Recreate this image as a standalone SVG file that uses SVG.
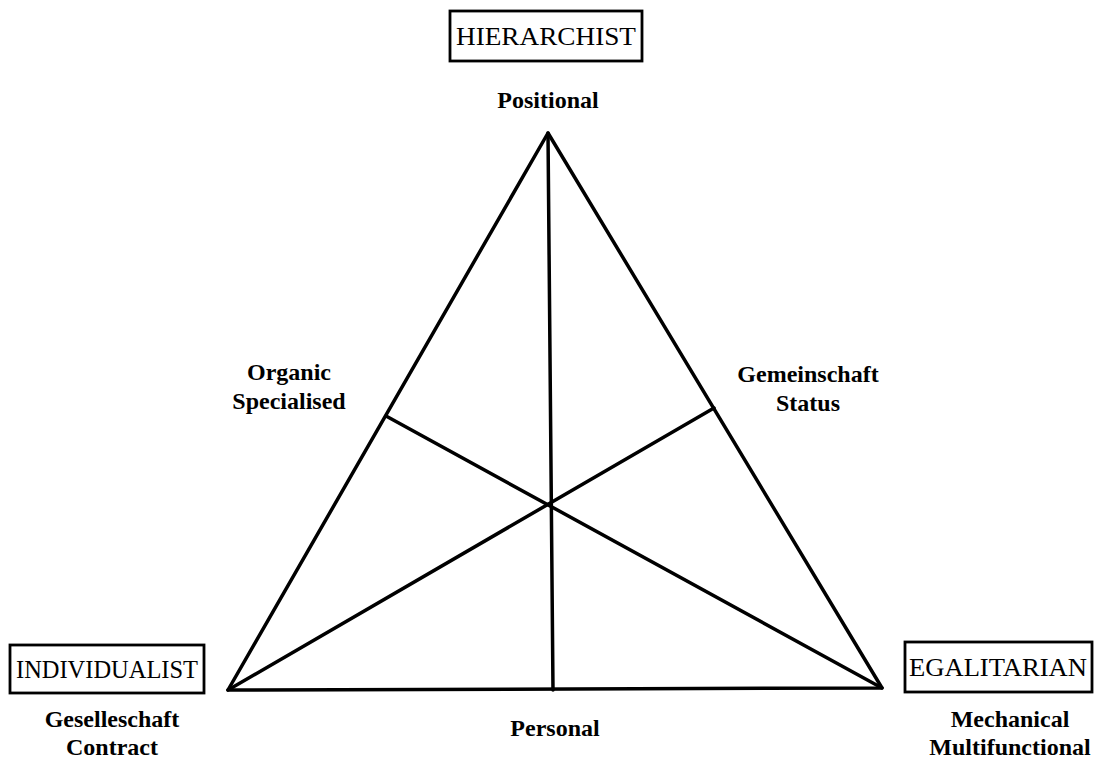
<svg xmlns="http://www.w3.org/2000/svg" width="1094" height="760" viewBox="0 0 1094 760">
<style>
.ln{stroke:#000;stroke-width:3.5;fill:none;stroke-linecap:round;stroke-linejoin:round}
.bx{stroke:#000;stroke-width:2.8;fill:#fff}
.cap{font-family:"Liberation Serif","Times New Roman",serif;font-size:25px;fill:#000;text-anchor:middle}
.lb{font-family:"Liberation Serif","Times New Roman",serif;font-size:24px;font-weight:bold;fill:#000;text-anchor:middle}
</style>
<rect width="1094" height="760" fill="#fff"/>
<g id="connectors">
<polygon class="ln" points="548,133 228,690 882,688"/>
<line class="ln" x1="548" y1="133" x2="553" y2="690"/>
<line class="ln" x1="228" y1="690" x2="714" y2="408"/>
<line class="ln" x1="882" y1="688" x2="386" y2="416"/>
</g>
<g id="hierarchist">
<rect class="bx" x="450" y="11" width="192" height="50"/>
<text class="cap" x="546" y="45" textLength="180" lengthAdjust="spacingAndGlyphs">HIERARCHIST</text>
<text class="lb" x="548" y="108">Positional</text>
</g>
<g id="individualist">
<rect class="bx" x="10" y="645" width="194" height="48"/>
<text class="cap" x="107" y="678" textLength="182" lengthAdjust="spacingAndGlyphs">INDIVIDUALIST</text>
<text class="lb" x="112" y="727">Geselleschaft</text>
<text class="lb" x="112" y="755">Contract</text>
</g>
<g id="egalitarian">
<rect class="bx" x="905" y="642" width="187" height="50"/>
<text class="cap" x="998" y="676" textLength="178" lengthAdjust="spacingAndGlyphs">EGALITARIAN</text>
<text class="lb" x="1010" y="727">Mechanical</text>
<text class="lb" x="1010" y="755">Multifunctional</text>
</g>
<g id="organic">
<text class="lb" x="289" y="380">Organic</text>
<text class="lb" x="289" y="409">Specialised</text>
</g>
<g id="gemeinschaft">
<text class="lb" x="808" y="382">Gemeinschaft</text>
<text class="lb" x="808" y="411">Status</text>
</g>
<g id="personal">
<text class="lb" x="555" y="736">Personal</text>
</g>
</svg>
